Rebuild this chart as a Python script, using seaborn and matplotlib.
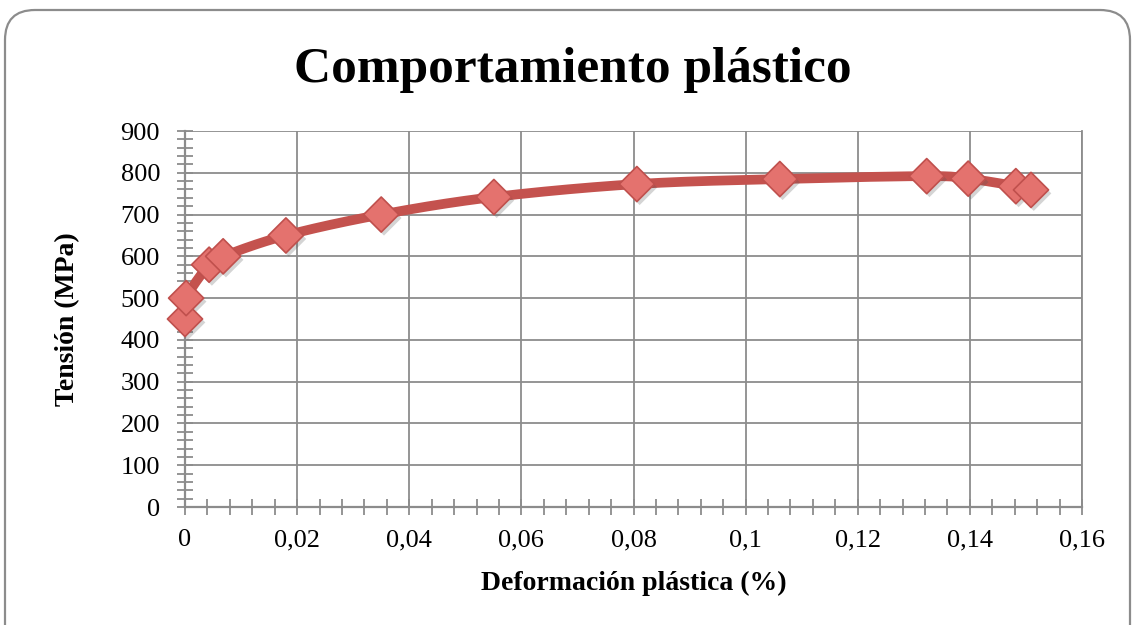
import numpy as np
import pandas as pd
import matplotlib
matplotlib.use("Agg")
import matplotlib.pyplot as plt
import matplotlib.patheffects as pe
from matplotlib.patches import FancyBboxPatch
from matplotlib.transforms import IdentityTransform
from matplotlib.ticker import MultipleLocator, FuncFormatter
import seaborn as sns

# Plastic strain (%) and stress (MPa)
deformacion = [0.0, 0.0002, 0.0043, 0.0068, 0.018, 0.035, 0.0551, 0.0806,
               0.1061, 0.1323, 0.1397, 0.1482, 0.1509]
tension = [450, 500, 580, 600, 650, 700, 742, 773, 785, 792, 786, 768, 759]

titulo = "Comportamiento plástico"
etiqueta_x = "Deformación plástica (%)"
etiqueta_y = "Tensión (MPa)"

LINE_COLOR = "#C4524E"
MARKER_FACE = "#E4726E"
MARKER_EDGE = "#C0504D"
GRID = "#8C8C8C"


def catmull_rom(x, y, n=30):
    """Smooth curve passing through every point (uniform Catmull-Rom)."""
    pts = np.column_stack([x, y]).astype(float)
    p = np.vstack([pts[0], pts, pts[-1]])
    out = []
    t = np.linspace(0, 1, n, endpoint=False)
    for i in range(1, len(p) - 2):
        p0, p1, p2, p3 = p[i - 1], p[i], p[i + 1], p[i + 2]
        tt = t[:, None]
        seg = 0.5 * ((2 * p1) + (-p0 + p2) * tt
                     + (2 * p0 - 5 * p1 + 4 * p2 - p3) * tt ** 2
                     + (-p0 + 3 * p1 - 3 * p2 + p3) * tt ** 3)
        out.append(seg)
    out.append(pts[-1][None, :])
    return np.vstack(out)


df = pd.DataFrame({"x": deformacion, "y": tension})
# normalise before smoothing so both axes weigh similarly
sx, sy = 0.16, 900.0
curve = catmull_rom(df["x"] / sx, df["y"] / sy)
smooth = pd.DataFrame({"x": curve[:, 0] * sx, "y": curve[:, 1] * sy})

sns.set_theme(style="white")
plt.rcParams["font.family"] = ["Liberation Serif", "DejaVu Serif"]
plt.rcParams["text.color"] = "black"
plt.rcParams["axes.labelcolor"] = "black"
plt.rcParams["xtick.color"] = "black"
plt.rcParams["ytick.color"] = "black"

W, H = 1132, 625
fig = plt.figure(figsize=(W / 100, H / 100), dpi=100)

# rounded chart-area border (pixel coordinates, runs past the bottom edge)
frame = FancyBboxPatch((5, -60), 1125, H - 10 + 60,
                       boxstyle="round,pad=0,rounding_size=30",
                       transform=IdentityTransform(), facecolor="none",
                       edgecolor="#8C8C8C", linewidth=1.6, zorder=0)
fig.patches.append(frame)

ax = fig.add_axes([185 / W, 1 - 507 / H, (1082 - 185) / W, (507 - 131) / H])

sns.lineplot(data=smooth, x="x", y="y", ax=ax, color=LINE_COLOR, linewidth=7,
             sort=False, estimator=None, zorder=3)
sns.scatterplot(data=df, x="x", y="y", ax=ax, marker="D", s=320,
                color=MARKER_FACE, edgecolor=MARKER_EDGE, linewidth=1.2, zorder=4,
                clip_on=False,
                path_effects=[pe.SimplePatchShadow(offset=(2, -2.5), alpha=0.25,
                                                   shadow_rgbFace="#555555"),
                              pe.Normal()])

ax.set_xlim(0, 0.16)
ax.set_ylim(0, 900)
ax.xaxis.set_major_locator(MultipleLocator(0.02))
ax.xaxis.set_minor_locator(MultipleLocator(0.004))
ax.yaxis.set_major_locator(MultipleLocator(100))
ax.yaxis.set_minor_locator(MultipleLocator(20))


def coma(v, pos):
    s = f"{v:.2f}".rstrip("0").rstrip(".")
    return s.replace(".", ",")


ax.xaxis.set_major_formatter(FuncFormatter(coma))
ax.grid(True, which="major", color=GRID, linewidth=1.3)
for s in ["top", "right"]:
    ax.spines[s].set_color(GRID)
    ax.spines[s].set_linewidth(1.3)
for s in ["left", "bottom"]:
    ax.spines[s].set_color(GRID)
    ax.spines[s].set_linewidth(1.6)
ax.spines["top"].set_visible(False)
ax.tick_params(which="both", direction="inout", color=GRID, width=1.3,
               bottom=True, left=True, labelcolor="black")
ax.tick_params(which="major", length=12, labelsize=19)
ax.tick_params(axis="x", which="major", pad=10)
ax.tick_params(axis="y", which="major", pad=12)
ax.tick_params(which="minor", length=12)

ax.set_xlabel(etiqueta_x, fontsize=20, fontweight="bold", labelpad=14)
ax.set_ylabel(etiqueta_y, fontsize=20, fontweight="bold", labelpad=29)

fig.text(573 / W, 1 - 70 / H, titulo, ha="center", va="center",
         fontsize=37, fontweight="bold")

fig.savefig("out.png", dpi=100)
